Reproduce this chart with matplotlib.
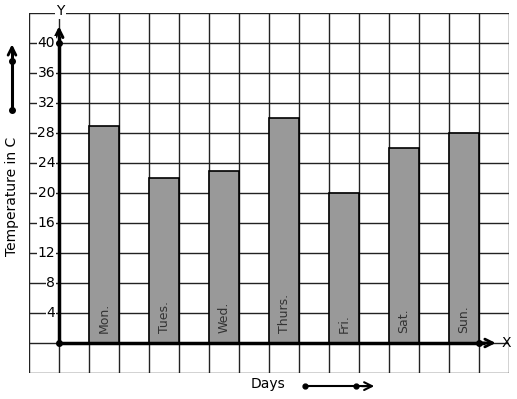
import matplotlib
matplotlib.use("Agg")
import matplotlib.pyplot as plt
import numpy as np

days = ["Mon.", "Tues.", "Wed.", "Thurs.", "Fri.", "Sat.", "Sun."]
temps = [29, 22, 23, 30, 20, 26, 28]
yticks = [4, 8, 12, 16, 20, 24, 28, 32, 36, 40]

W, H = 517, 399
fig = plt.figure(figsize=(W / 100, H / 100), dpi=100)
# grid area: x px 29..509, y px 13..373
ax = fig.add_axes([29 / W, 1 - 373 / H, 480 / W, 360 / H])
ax.set_xlim(-1, 15)
ax.set_ylim(-4, 44)
ax.axis("off")

# grid
for gx in range(-1, 16):
    ax.plot([gx, gx], [-4, 44], color="#222222", lw=1.0, zorder=1)
for gy in range(-4, 45, 4):
    ax.plot([-1, 15], [gy, gy], color="#222222", lw=1.0, zorder=1)

# bars
xpos = [1.5 + 2 * i for i in range(len(days))]
ax.bar(xpos, temps, width=1.0, color="#999999", edgecolor="black", lw=1.2, zorder=2)
for x, d in zip(xpos, days):
    ax.text(x, 1.3, d, rotation=90, ha="center", va="bottom", fontsize=9,
            color="#333333", zorder=3)

# axes with arrows
ax.plot([0, 0], [0, 41], color="black", lw=2.5, zorder=4, solid_capstyle="butt")
ax.annotate("", xy=(0, 42.6), xytext=(0, 40.5),
            arrowprops=dict(arrowstyle="->", lw=2.2, color="black", mutation_scale=14), zorder=4)
ax.plot([0, 14.2], [0, 0], color="black", lw=2.5, zorder=4, solid_capstyle="butt")
ax.annotate("", xy=(14.65, 0), xytext=(14.0, 0),
            arrowprops=dict(arrowstyle="->", lw=2.0, color="black", mutation_scale=14), zorder=4)
ax.plot([0, 0, 14], [40, 0, 0], "o", color="black", ms=4, zorder=5)
ax.text(14.75, 0, "X", ha="left", va="center", fontsize=10, zorder=5)
ax.text(0.05, 44.3, "Y", ha="center", va="center", fontsize=10, zorder=5,
        bbox=dict(facecolor="white", edgecolor="none", pad=1), clip_on=False)

# tick labels
for t in yticks:
    ax.text(-0.13, t, str(t), ha="right", va="center", fontsize=10, zorder=5,
            bbox=dict(facecolor="white", edgecolor="none", pad=0.3))

# left label and arrow
ax.text(-1.57, 19.5, "Temperature in C", rotation=90, ha="center", va="center",
        fontsize=10, clip_on=False)
ax.plot([-1.567, -1.567], [31.1, 39.2], color="black", lw=2.2, clip_on=False)
ax.annotate("", xy=(-1.567, 40.2), xytext=(-1.567, 38.5),
            arrowprops=dict(arrowstyle="->", lw=2.0, color="black", mutation_scale=14),
            annotation_clip=False)
ax.plot([-1.567, -1.567], [31.1, 37.6], "o", color="black", ms=4, clip_on=False)

# bottom label and arrow
ax.text(6.95, -5.5, "Days", ha="center", va="center", fontsize=10, clip_on=False)
ax.plot([8.2, 10.3], [-5.75, -5.75], color="black", lw=1.5, clip_on=False)
ax.annotate("", xy=(10.6, -5.75), xytext=(10.0, -5.75),
            arrowprops=dict(arrowstyle="->", lw=1.5, color="black", mutation_scale=14),
            annotation_clip=False)
ax.plot([8.2, 9.9], [-5.75, -5.75], "o", color="black", ms=3.5, clip_on=False)

fig.savefig("out.png", dpi=100)
